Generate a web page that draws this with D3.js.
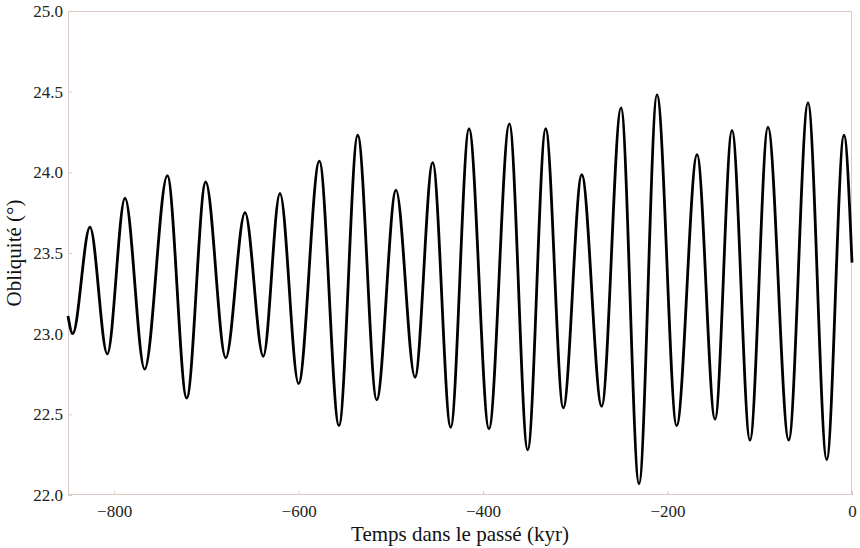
<!doctype html>
<meta charset="utf-8">
<script src="https://d3js.org/d3.v7.min.js"></script>
<style>
body { margin: 0; background: #fff; }
svg { display: block; }
.frame { fill: none; stroke: #dacbc5; stroke-width: 1; }
.tick line { stroke: #dacbc5; }
.domain { display: none; }
.label { font-family: "Liberation Serif", serif; font-size: 21px; fill: #111; }
</style>
<body></body>
<script>

var width = 860;
var height = 548;
var margin = {top: 11, right: 8, bottom: 53, left: 68};

// extrema (kyr, degrees)
var times = [-850, -844.9, -826.2, -807.4, -788.2, -766.9, -742.3, -721.3, -700.7, -679.0,
        -658.1, -638.3, -620.2, -600.0, -577.5, -556.2, -535.9, -515.3, -494.4, -473.8,
        -454.6, -435.1, -415.2, -393.6, -371.5, -351.6, -332.1, -313.0, -293.0, -271.4,
        -250.4, -230.9, -211.4, -190.1, -168.0, -148.5, -130.1, -110.6, -91.1, -68.6,
        -47.7, -27.4, -8.7, 0];
var obliquity = [23.11, 23.00, 23.66, 22.875, 23.84, 22.78, 23.98, 22.60, 23.94, 22.85,
        23.75, 22.86, 23.87, 22.69, 24.07, 22.43, 24.23, 22.59, 23.89, 22.73,
        24.06, 22.42, 24.27, 22.41, 24.30, 22.28, 24.27, 22.54, 23.985, 22.55,
        24.40, 22.07, 24.48, 22.43, 24.11, 22.47, 24.26, 22.34, 24.28, 22.34,
        24.43, 22.22, 24.23, 23.44];

var xTicks = [-800, -600, -400, -200, 0];
var yTicks = [22.0, 22.5, 23.0, 23.5, 24.0, 24.5, 25.0];

var data = times.map(function(t, i){
    return {t: t, v: obliquity[i]};
});

var svg = d3.select("body")
        .append("svg")
        .attr("width", width)
        .attr("height", height);

var x = d3.scaleLinear()
        .domain([-850, 0])
        .range([margin.left, width - margin.right]);

var y = d3.scaleLinear()
        .domain([22, 25])
        .range([height - margin.bottom, margin.top]);

var xAxis = svg.append("g")
        .attr("transform", "translate(0," + (height - margin.bottom) + ")")
        .call(d3.axisBottom(x)
            .tickValues(xTicks)
            .tickSizeInner(-4)
            .tickSizeOuter(0)
            .tickPadding(10)
            .tickFormat(function(d){ return d3.format("d")(d).replace("-", "\u2212"); }));

var yAxis = svg.append("g")
        .attr("transform", "translate(" + margin.left + ",0)")
        .call(d3.axisLeft(y)
            .tickValues(yTicks)
            .tickSizeInner(-4)
            .tickSizeOuter(0)
            .tickPadding(5)
            .tickFormat(d3.format(".1f")));

[xAxis, yAxis].forEach(function(g){
    g.selectAll("text")
        .style("font-family", "'Liberation Serif', serif")
        .style("font-size", "17px")
        .style("fill", "#222");
});

svg.append("rect")
        .classed("frame", true)
        .attr("x", margin.left + 0.5)
        .attr("y", margin.top + 0.5)
        .attr("width", width - margin.left - margin.right - 1)
        .attr("height", height - margin.top - margin.bottom - 1);

var line = d3.line()
        .x(function(d){ return x(d.t); })
        .y(function(d){ return y(d.v); })
        .curve(d3.curveMonotoneX);

svg.append("path")
        .datum(data)
        .attr("d", line)
        .attr("fill", "none")
        .attr("stroke", "#000")
        .attr("stroke-width", 2.8);

svg.append("text")
        .classed("label", true)
        .attr("x", (margin.left + width - margin.right) / 2)
        .attr("y", 541)
        .attr("text-anchor", "middle")
        .text("Temps dans le passé (kyr)");

svg.append("text")
        .classed("label", true)
        .attr("transform", "translate(21," + ((margin.top + height - margin.bottom) / 2) + ") rotate(-90)")
        .attr("text-anchor", "middle")
        .text("Obliquité (°)");

</script>
